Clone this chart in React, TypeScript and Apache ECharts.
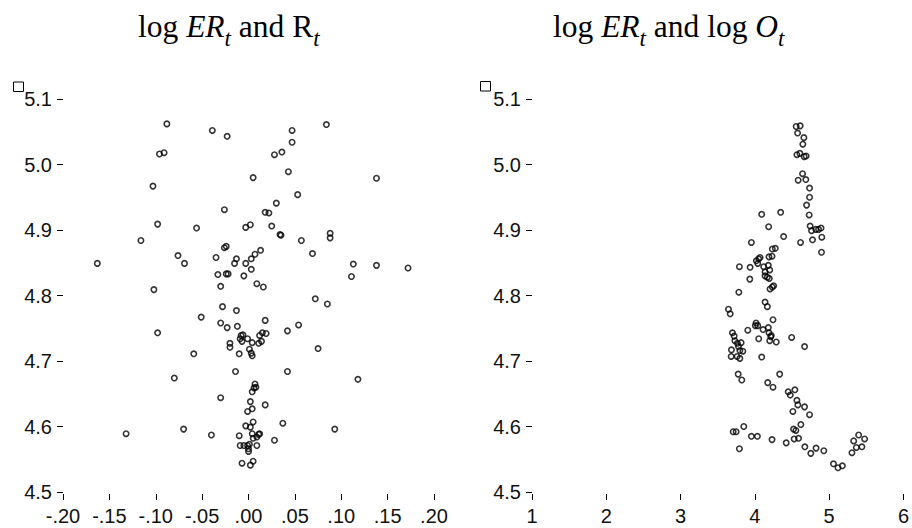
import React, { useEffect, useRef } from "react";
import * as echarts from "echarts";

// Left panel: R_t (x) vs log ER_t (y)
const leftX = [-0.163,-0.088,-0.039,-0.023,-0.096,-0.091,-0.103,-0.026,-0.098,-0.056,
-0.116,-0.026,-0.024,-0.076,-0.069,-0.035,-0.015,-0.013,-0.033,-0.024,
-0.022,-0.030,-0.102,0.047,0.084,0.047,0.028,0.036,0.005,0.043,
0.138,0.053,0.030,0.018,0.022,-0.003,0.002,0.025,0.034,0.035,
0.057,0.088,0.088,0.069,-0.003,0.003,0.007,0.013,0.003,-0.005,
0.009,0.016,0.113,0.111,0.138,0.172,0.072,0.085,-0.028,-0.013,
-0.051,-0.030,-0.023,-0.012,0.018,0.054,0.042,-0.008,-0.006,-0.009,
-0.007,-0.001,0.012,0.015,0.019,0.014,0.011,0.004,-0.020,-0.020,
0.001,0.003,0.004,-0.010,-0.059,0.075,-0.098,-0.014,0.042,-0.080,
0.118,0.007,0.008,0.006,0.004,-0.030,0.002,0.018,0.004,-0.001,
0.005,-0.003,0.002,0.037,0.093,-0.132,-0.070,-0.040,-0.010,0.004,
0.011,0.012,0.005,0.009,0.028,-0.009,-0.005,-0.001,0.001,0.000,
0.000,0.009,-0.007,0.002,0.005];
const leftY = [4.849,5.062,5.052,5.043,5.016,5.018,4.967,4.931,4.909,4.903,
4.884,4.873,4.875,4.861,4.849,4.858,4.849,4.856,4.832,4.833,
4.833,4.814,4.809,5.052,5.061,5.034,5.015,5.019,4.980,4.989,
4.979,4.954,4.941,4.927,4.926,4.904,4.908,4.906,4.893,4.892,
4.884,4.895,4.888,4.864,4.849,4.856,4.863,4.869,4.840,4.830,
4.818,4.813,4.848,4.829,4.846,4.842,4.795,4.787,4.783,4.777,
4.767,4.758,4.751,4.753,4.762,4.755,4.746,4.739,4.740,4.734,
4.730,4.734,4.739,4.743,4.742,4.730,4.727,4.728,4.727,4.721,
4.718,4.712,4.708,4.711,4.711,4.719,4.743,4.684,4.684,4.674,
4.672,4.665,4.660,4.659,4.653,4.644,4.638,4.633,4.627,4.623,
4.607,4.601,4.599,4.605,4.596,4.589,4.596,4.587,4.586,4.589,
4.588,4.589,4.582,4.584,4.579,4.571,4.571,4.571,4.573,4.566,
4.562,4.571,4.544,4.541,4.547];

// Right panel: log O_t (x) vs log ER_t (y)
const rightX = [4.556,4.610,4.575,4.660,4.646,4.566,4.606,4.664,4.690,4.642,
4.583,4.686,4.736,4.736,4.696,4.731,4.092,4.347,4.186,4.744,
4.763,4.820,4.857,4.891,4.776,4.901,4.387,4.615,4.897,3.953,
4.235,4.275,4.190,4.231,3.792,3.936,4.020,4.052,4.070,4.039,
4.119,4.181,4.137,4.200,4.137,4.168,4.194,3.932,4.204,4.235,
4.253,3.784,4.137,4.168,3.645,3.668,4.016,4.039,4.007,4.244,
3.905,4.110,4.181,4.190,4.221,4.213,4.200,4.288,4.052,4.495,
4.669,3.698,3.721,3.731,3.765,3.815,3.779,3.798,3.838,3.685,
3.681,3.761,3.798,4.092,3.775,3.824,4.334,4.173,4.244,4.449,
4.476,4.539,4.566,4.579,4.669,4.512,4.736,4.619,4.521,4.552,
4.529,4.588,3.851,3.708,3.748,3.953,4.034,4.231,4.422,3.792,
4.673,4.753,4.824,4.928,5.397,5.330,5.477,5.366,5.441,5.307,
5.058,5.119,5.178];
const rightY = [5.058,5.059,5.048,5.041,5.031,5.015,5.017,5.012,5.013,4.986,
4.976,4.977,4.964,4.950,4.938,4.923,4.924,4.927,4.905,4.906,
4.899,4.901,4.901,4.903,4.885,4.889,4.890,4.881,4.866,4.881,
4.871,4.872,4.859,4.860,4.844,4.843,4.853,4.856,4.858,4.849,
4.844,4.846,4.836,4.839,4.830,4.828,4.826,4.825,4.810,4.813,
4.815,4.805,4.790,4.783,4.779,4.772,4.758,4.754,4.754,4.763,
4.747,4.748,4.751,4.743,4.739,4.737,4.731,4.729,4.734,4.736,
4.722,4.743,4.738,4.731,4.727,4.728,4.722,4.716,4.715,4.717,
4.707,4.707,4.704,4.706,4.680,4.671,4.680,4.667,4.660,4.653,
4.648,4.656,4.640,4.633,4.630,4.623,4.618,4.603,4.596,4.594,
4.581,4.582,4.600,4.592,4.592,4.585,4.585,4.580,4.575,4.566,
4.569,4.559,4.567,4.563,4.587,4.578,4.581,4.568,4.569,4.560,
4.543,4.537,4.540];

const yMin = 4.5, yMax = 5.1, yStep = 0.1;
const leftXMin = -0.2, leftXMax = 0.2, leftXStep = 0.05;
const rightXMin = 1, rightXMax = 6, rightXStep = 1;

const serif = "'Liberation Serif', 'Times New Roman', serif";
const sans = "'Liberation Sans', Arial, sans-serif";

function titleRich() {
  const base = { fontFamily: serif, fontWeight: "normal", color: "#000" };
  return {
    n: { ...base, fontSize: 31.5, lineHeight: 48 },
    i: { ...base, fontSize: 31.5, lineHeight: 48, fontStyle: "italic" },
    s: { ...base, fontSize: 23, lineHeight: 23, fontStyle: "italic", verticalAlign: "bottom" },
  };
}

function fmtLeft(v: number) {
  const s = Math.abs(v).toFixed(2).replace(/^0/, "");
  return (v < -1e-9 ? "-" : "") + s;
}

export default function App() {
  const ref = useRef<HTMLDivElement>(null);
  useEffect(() => {
    if (!ref.current) return;
    const chart = echarts.init(ref.current, null, { renderer: "svg" });
    const labelStyle = { fontFamily: sans, fontSize: 20, color: "#111" };
    const tick = { show: true, inside: false, length: 6, lineStyle: { color: "#000", width: 1 } };
    const yAxisBase = (gi: number) => ({
      type: "value", gridIndex: gi, min: yMin, max: yMax, interval: yStep, position: "left",
      axisLine: { show: false, onZero: false }, splitLine: { show: false }, axisTick: tick,
      axisLabel: { ...labelStyle, margin: 11, formatter: (v: number) => v.toFixed(1) },
    });
    const sym = {
      type: "scatter", symbol: "circle", symbolSize: 5.4,
      itemStyle: { color: "rgba(0,0,0,0)", borderColor: "#000", borderWidth: 1.6 },
    };
    chart.setOption({
      animation: false,
      backgroundColor: "#fff",
      title: [
        { text: "{n|log }{i|ER}{s|t}{n| and R}{s|t}", left: 138, top: 2, padding: 0, textStyle: { fontWeight: "normal", rich: titleRich() } },
        { text: "{n|log }{i|ER}{s|t}{n| and log }{i|O}{s|t}", left: 553, top: 2, padding: 0, textStyle: { fontWeight: "normal", rich: titleRich() } },
      ],
      grid: [
        { left: 63, top: 99, width: 371, height: 393 },
        { left: 532, top: 99, width: 373, height: 393 },
      ],
      xAxis: [
        {
          type: "value", gridIndex: 0, min: leftXMin, max: leftXMax, interval: leftXStep, offset: 2, position: "bottom",
          axisLine: { show: false, onZero: false }, splitLine: { show: false }, axisTick: tick,
          axisLabel: { ...labelStyle, margin: 12, formatter: fmtLeft },
        },
        {
          type: "value", gridIndex: 1, min: rightXMin, max: rightXMax, interval: rightXStep, offset: 2, position: "bottom",
          axisLine: { show: false, onZero: false }, splitLine: { show: false }, axisTick: tick,
          axisLabel: { ...labelStyle, margin: 12, formatter: (v: number) => String(v) },
        },
      ],
      yAxis: [yAxisBase(0), yAxisBase(1)],
      series: [
        { ...sym, xAxisIndex: 0, yAxisIndex: 0, data: leftX.map((x, k) => [x, leftY[k]]) },
        { ...sym, xAxisIndex: 1, yAxisIndex: 1, data: rightX.map((x, k) => [x, rightY[k]]) },
      ],
      graphic: [
        { type: "rect", shape: { x: 13.5, y: 82, width: 10, height: 9.5 }, style: { fill: "none", stroke: "#000", lineWidth: 1 } },
        { type: "rect", shape: { x: 480.5, y: 81.5, width: 10, height: 9.5 }, style: { fill: "none", stroke: "#000", lineWidth: 1 } },
      ],
    } as any);
    return () => chart.dispose();
  }, []);
  return (
    <div
      ref={ref}
      style={{ position: "fixed", left: 0, top: 0, width: 912, height: 528, background: "#fff" }}
    />
  );
}
